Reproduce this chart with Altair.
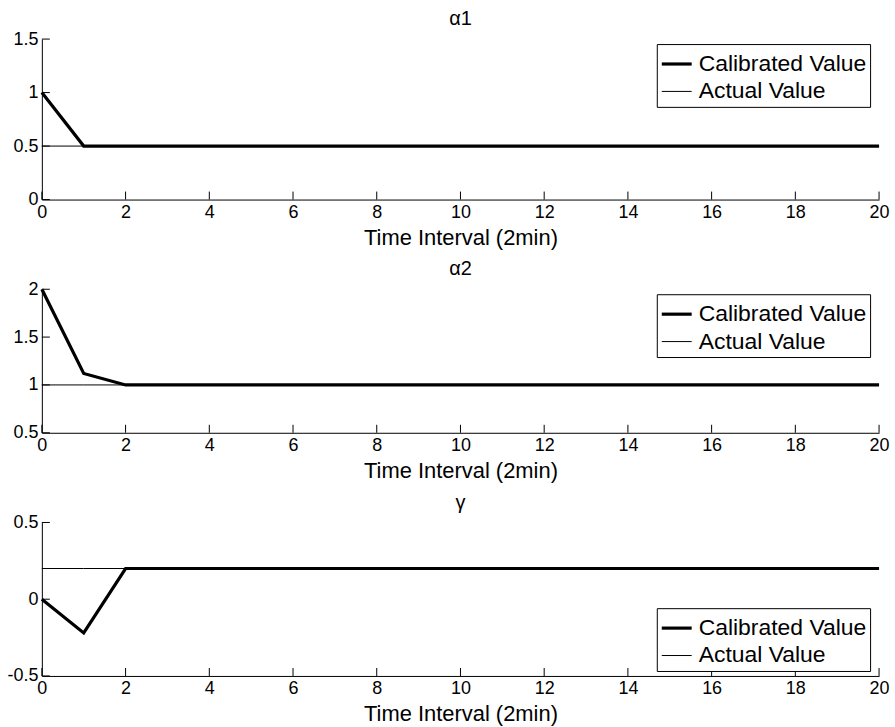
import altair as alt
import pandas as pd

# ---------------- data ----------------
t = [0, 1, 2, 3, 4, 5, 6, 7, 8, 9, 10, 11, 12, 13, 14, 15, 16, 17, 18, 19, 20]

alpha1_calibrated = [1.0, 0.5, 0.5, 0.5, 0.5, 0.5, 0.5, 0.5, 0.5, 0.5, 0.5,
                     0.5, 0.5, 0.5, 0.5, 0.5, 0.5, 0.5, 0.5, 0.5, 0.5]
alpha1_actual = [0.5, 0.5, 0.5, 0.5, 0.5, 0.5, 0.5, 0.5, 0.5, 0.5, 0.5,
                 0.5, 0.5, 0.5, 0.5, 0.5, 0.5, 0.5, 0.5, 0.5, 0.5]

alpha2_calibrated = [2.0, 1.12, 1.0, 1.0, 1.0, 1.0, 1.0, 1.0, 1.0, 1.0, 1.0,
                     1.0, 1.0, 1.0, 1.0, 1.0, 1.0, 1.0, 1.0, 1.0, 1.0]
alpha2_actual = [1.0, 1.0, 1.0, 1.0, 1.0, 1.0, 1.0, 1.0, 1.0, 1.0, 1.0,
                 1.0, 1.0, 1.0, 1.0, 1.0, 1.0, 1.0, 1.0, 1.0, 1.0]

gamma_calibrated = [0.0, -0.22, 0.2, 0.2, 0.2, 0.2, 0.2, 0.2, 0.2, 0.2, 0.2,
                    0.2, 0.2, 0.2, 0.2, 0.2, 0.2, 0.2, 0.2, 0.2, 0.2]
gamma_actual = [0.2, 0.2, 0.2, 0.2, 0.2, 0.2, 0.2, 0.2, 0.2, 0.2, 0.2,
                0.2, 0.2, 0.2, 0.2, 0.2, 0.2, 0.2, 0.2, 0.2, 0.2]

x_ticks = [0, 2, 4, 6, 8, 10, 12, 14, 16, 18, 20]
alpha1_ticks = [0, 0.5, 1, 1.5]
alpha2_ticks = [0.5, 1, 1.5, 2]
gamma_ticks = [-0.5, 0, 0.5]

series_names = ["Calibrated Value", "Actual Value"]
x_title = "Time Interval (2min)"
panel_titles = ["\u03b11", "\u03b12", "\u03b3"]

# ---------------- styling ----------------
FONT = "Liberation Sans"
W = 840
TICK_LEN = 8
LEG_W = 208
LEG_H = 62


def panel(title, cal, act, ydom, yticks, h, legend_y):
    df = pd.DataFrame({
        "t": t + t,
        "value": cal + act,
        "series": [series_names[0]] * len(t) + [series_names[1]] * len(t),
    })
    xscale = alt.Scale(domain=[0, 20], nice=False, zero=False)
    yscale = alt.Scale(domain=ydom, nice=False, zero=False)
    xaxis = alt.Axis(values=x_ticks, title=x_title, ticks=False, labelFlush=False,
                     labelOverlap=False, grid=False, labelExpr="datum.value + ''")
    yaxis = alt.Axis(values=yticks, title=None, ticks=False, labelFlush=False,
                     labelOverlap=False, grid=False, labelExpr="datum.value + ''")

    lines = alt.Chart(df).mark_line(color="black").encode(
        x=alt.X("t:Q", scale=xscale, axis=xaxis),
        y=alt.Y("value:Q", scale=yscale, axis=yaxis),
        strokeWidth=alt.StrokeWidth(
            "series:N",
            scale=alt.Scale(domain=series_names, range=[3.2, 1]),
            legend=alt.Legend(
                title=None, orient="none", legendX=W - 15 - LEG_W, legendY=legend_y,
                direction="vertical", strokeColor="black", fillColor="white",
                padding=3, cornerRadius=0, symbolType="stroke", symbolSize=900,
                symbolStrokeColor="black", labelFont=FONT, labelFontSize=23,
                labelColor="black", labelOffset=5, rowPadding=0, labelLimit=400,
            ),
        ),
    )

    xt = pd.DataFrame({"t": x_ticks})
    xtick_layer = alt.Chart(xt).mark_rule(color="black", strokeWidth=1).encode(
        x=alt.X("t:Q", scale=xscale, axis=xaxis),
        y=alt.value(h),
        y2=alt.value(h - TICK_LEN),
    )
    yt = pd.DataFrame({"value": yticks})
    ytick_layer = alt.Chart(yt).mark_rule(color="black", strokeWidth=1).encode(
        y=alt.Y("value:Q", scale=yscale, axis=yaxis),
        x=alt.value(0),
        x2=alt.value(TICK_LEN),
    )

    return alt.layer(lines, xtick_layer, ytick_layer).properties(
        width=W,
        height=h,
        title=alt.TitleParams(title, font=FONT, fontSize=20, fontWeight="normal",
                              color="black", anchor="middle", offset=1),
    )


p1 = panel(panel_titles[0], alpha1_calibrated, alpha1_actual, [0, 1.5], alpha1_ticks, 161, 5)
p2 = panel(panel_titles[1], alpha2_calibrated, alpha2_actual, [0.5, 2], alpha2_ticks, 144, 5)
p3 = panel(panel_titles[2], gamma_calibrated, gamma_actual, [-0.5, 0.5], gamma_ticks, 154,
           154 - 6 - LEG_H)

chart = alt.vconcat(p1, p2, p3, spacing=90, bounds="flush").resolve_scale(
    strokeWidth="independent"
).resolve_legend(
    strokeWidth="independent"
).properties(
    padding={"left": 6, "top": 8, "right": 5, "bottom": 2},
    background="white",
).configure_view(
    stroke=None
).configure_axis(
    domainColor="black", domainWidth=1,
    labelFont=FONT, labelFontSize=18, labelColor="black", labelPadding=4,
    titleFont=FONT, titleFontSize=22, titleFontWeight="normal", titleColor="black",
    titlePadding=6,
)

chart.save("out.html", embed_options={"renderer": "svg", "actions": False})
